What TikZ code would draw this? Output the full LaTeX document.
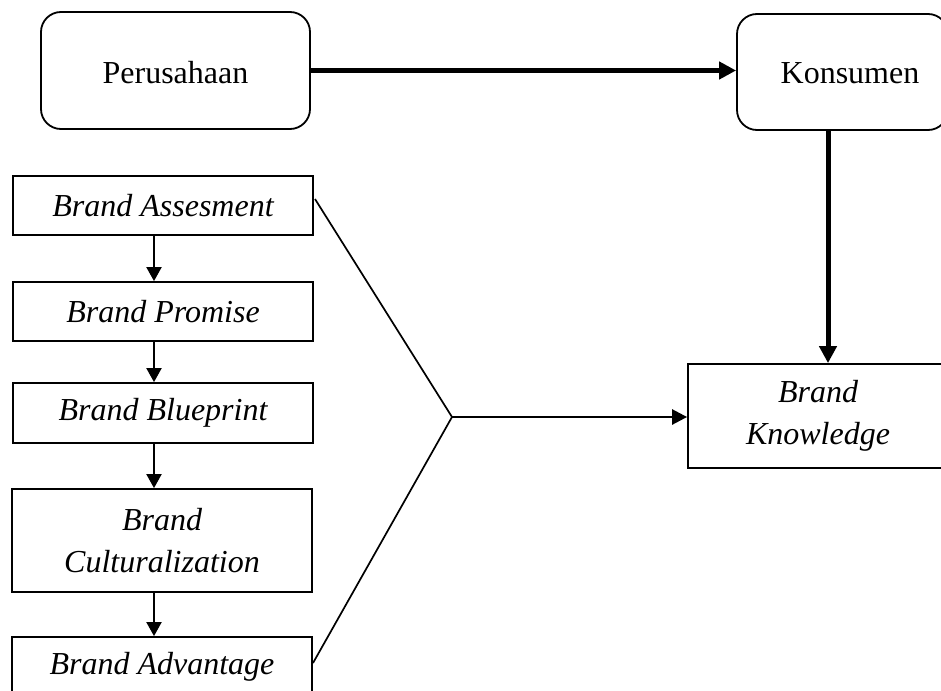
\documentclass[tikz,border=0pt]{standalone}
\usepackage{fontspec}
\setmainfont{Liberation Serif}
\usetikzlibrary{arrows.meta}
\tikzset{
  txt/.style={font=\fontsize{32}{41.5}\selectfont, align=center, inner sep=0pt},
  roundbox/.style={draw, line width=1.8pt, rounded corners=20pt, inner sep=0pt},
  sqbox/.style={draw, line width=1.8pt, inner sep=0pt, font=\fontsize{32}{41.5}\selectfont\itshape, align=center},
  thick arrow/.style={line width=5pt, -{Triangle[length=17pt,width=17pt]}},
  small arrow/.style={line width=2pt, -{Triangle[length=14pt,width=15pt]}},
  mid arrow/.style={line width=2.6pt, -{Triangle[length=15pt,width=15pt]}},
  joinline/.style={line width=1.7pt}
}
\begin{document}
\begin{tikzpicture}[x=1pt, y=-1pt]
\clip (0,0) rectangle (941,690);
\fill[white] (0,0) rectangle (941,690);
% top boxes
\node[roundbox, minimum width=269pt, minimum height=117pt] (per) at (175.5,70.5) {};
\node[txt] (pert) at (175.5,73) {Perusahaan};
\node[roundbox, minimum width=211pt, minimum height=116pt] (kon) at (842.5,72) {};
\node[txt] (kont) at (850,73) {Konsumen};
% brand knowledge
\node[sqbox, minimum width=260pt, minimum height=104pt] (bk) at (818,416) {Brand\\Knowledge};
% left column
\node[sqbox, minimum width=300pt, minimum height=59pt] (ba) at (163,205.5) {Brand Assesment};
\node[sqbox, minimum width=300pt, minimum height=59pt] (bp) at (163,311.5) {Brand Promise};
\node[sqbox, minimum width=300pt, minimum height=60pt] (bb) at (163,413) {Brand Blueprint};
\node[sqbox, minimum width=300pt, minimum height=103pt] (bc) at (162,540.5) {Brand\\Culturalization};
\node[sqbox, minimum width=300pt, minimum height=59pt] (bv) at (162,666.5) {Brand Advantage};
% coordinates
\coordinate (colx) at (154,0);
\coordinate (konx) at (828,0);
\coordinate (junc) at (452,417);
\coordinate (bastart) at (315,199);
\coordinate (bvend) at (313,663);
% arrows
\draw[thick arrow] (per.east) -- (kon.west |- per.east);
\draw[thick arrow] (kon.south -| konx) -- (bk.north -| konx);
\draw[small arrow] (ba.south -| colx) -- (bp.north -| colx);
\draw[small arrow] (bp.south -| colx) -- (bb.north -| colx);
\draw[small arrow] (bb.south -| colx) -- (bc.north -| colx);
\draw[small arrow] (bc.south -| colx) -- (bv.north -| colx);
\draw[joinline] (bastart) -- (junc) -- (bvend);
\draw[mid arrow] (junc) -- (bk.west |- junc);
\end{tikzpicture}
\end{document}
